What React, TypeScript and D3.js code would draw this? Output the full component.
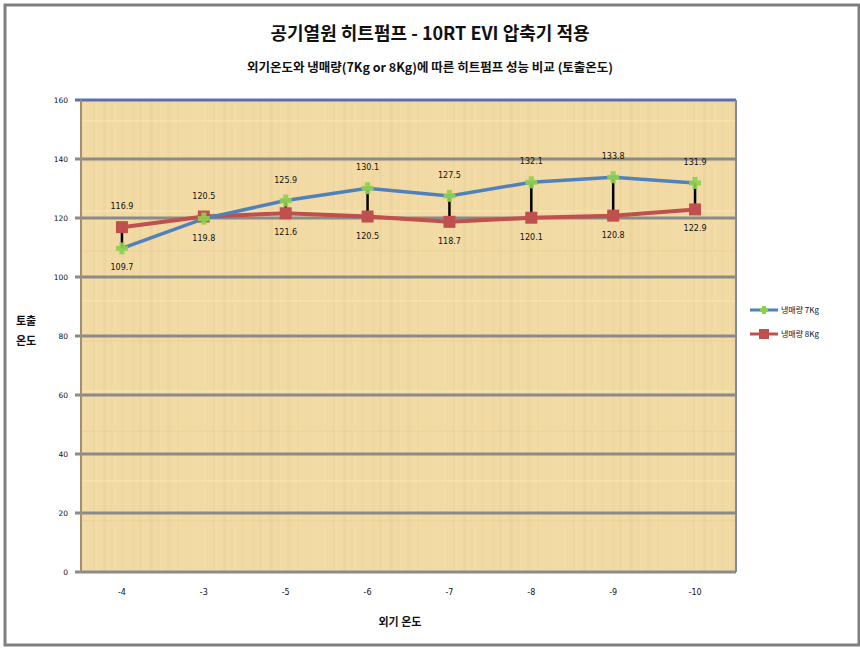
import React from "react";
import * as d3 from "d3";

const categories = ["-4", "-3", "-5", "-6", "-7", "-8", "-9", "-10"];
const series7Kg = [109.7, 119.8, 125.9, 130.1, 127.5, 132.1, 133.8, 131.9];
const series8Kg = [116.9, 120.5, 121.6, 120.5, 118.7, 120.1, 120.8, 122.9];
const yTicks = [0, 20, 40, 60, 80, 100, 120, 140, 160];
const seriesNames = ["냉매량 7Kg", "냉매량 8Kg"];

const W = 860;
const H = 652;
const M = { left: 81, right: 736, top: 100, bottom: 572 };

export default function App() {
  const x = d3.scaleBand<string>().domain(categories).range([M.left, M.right]);
  const y = d3.scaleLinear().domain([0, 160]).range([M.bottom, M.top]);
  const cx = (c: string) => (x(c) as number) + x.bandwidth() / 2;

  const line = d3
    .line<number>()
    .x((_, i) => cx(categories[i]))
    .y((d) => y(d));

  const stripes = d3.range(0, 24).map((i) => ({
    x: (i * 37) % 120,
    w: 2 + (i % 3),
    op: 0.06 + ((i * 7) % 5) * 0.02,
    c: i % 2 ? "#d2b072" : "#fbe9bd",
  }));

  const labelFont = { fontFamily: "DejaVu Sans, sans-serif", fontSize: 8, fill: "#111" };

  return (
    <svg width={W} height={H} style={{ position: "absolute", left: 0, top: 0, background: "#fff" }}>
      <defs>
        <pattern id="papyrus" patternUnits="userSpaceOnUse" width={120} height={90}>
          <rect width={120} height={90} fill="#f2daa4" />
          {stripes.map((s, i) => (
            <rect key={i} x={s.x} y={0} width={s.w} height={90} fill={s.c} opacity={s.op} />
          ))}
          <rect x={0} y={30} width={120} height={2} fill="#fbeac0" opacity={0.35} />
          <rect x={0} y={70} width={120} height={2} fill="#e0bd80" opacity={0.2} />
        </pattern>
      </defs>
      <rect x={5} y={5} width={854} height={640} fill="#fff" stroke="#7f7f7f" strokeWidth={3} />
      <text x={430} y={40} textAnchor="middle" fontFamily="Noto Sans CJK KR, sans-serif" fontWeight="bold" fontSize={18} fill="#111">
        공기열원 히트펌프  -  10RT EVI 압축기 적용
      </text>
      <text x={430} y={72} textAnchor="middle" fontFamily="Noto Sans CJK KR, sans-serif" fontWeight="bold" fontSize={12.5} fill="#111">
        외기온도와 냉매량(7Kg or 8Kg)에 따른 히트펌프 성능 비교 (토출온도)
      </text>
      <rect x={M.left} y={M.top} width={M.right - M.left} height={M.bottom - M.top} fill="url(#papyrus)" />
      {yTicks.map((t) => (
        <g key={t}>
          <line x1={M.left - 6} x2={M.right} y1={y(t)} y2={y(t)} stroke={t === 160 ? "#5b6fae" : "#8a8a8a"} strokeWidth={3} />
          <text x={68} y={y(t) + 3} textAnchor="end" {...labelFont} fontSize={7.5}>
            {t}
          </text>
        </g>
      ))}
      <line x1={M.left} x2={M.left} y1={M.top} y2={M.bottom} stroke="#a09070" strokeWidth={2} />
      <line x1={M.right} x2={M.right} y1={M.top} y2={M.bottom} stroke="#7d8aa5" strokeWidth={2} />
      {categories.map((c) => (
        <text key={c} x={cx(c)} y={595} textAnchor="middle" {...labelFont}>
          {c}
        </text>
      ))}
      <text x={400} y={626} textAnchor="middle" fontFamily="Noto Sans CJK KR, sans-serif" fontSize={11} fontWeight="bold" fill="#111">
        외기 온도
      </text>
      <text x={16} y={325} fontFamily="Noto Sans CJK KR, sans-serif" fontSize={11} fontWeight="bold" fill="#111">
        토출
      </text>
      <text x={16} y={345} fontFamily="Noto Sans CJK KR, sans-serif" fontSize={11} fontWeight="bold" fill="#111">
        온도
      </text>
      {categories.map((c, i) => (
        <line key={c} x1={cx(c)} x2={cx(c)} y1={y(series7Kg[i])} y2={y(series8Kg[i])} stroke="#000" strokeWidth={2.5} />
      ))}
      <path d={line(series8Kg) || ""} fill="none" stroke="#c0504d" strokeWidth={4} />
      <path d={line(series7Kg) || ""} fill="none" stroke="#4f81bd" strokeWidth={3.5} />
      {series8Kg.map((v, i) => (
        <rect key={i} x={cx(categories[i]) - 6} y={y(v) - 6} width={12} height={12} fill="#c0504d" />
      ))}
      {series7Kg.map((v, i) => (
        <g key={i} fill="#8fd14f" opacity={0.9}>
          <rect x={cx(categories[i]) - 6} y={y(v) - 2.5} width={12} height={5} />
          <rect x={cx(categories[i]) - 2.5} y={y(v) - 6} width={5} height={12} />
        </g>
      ))}
      {categories.map((c, i) => {
        const hi = Math.max(series7Kg[i], series8Kg[i]);
        const lo = Math.min(series7Kg[i], series8Kg[i]);
        return (
          <g key={c}>
            <text x={cx(c)} y={y(hi) - 18} textAnchor="middle" {...labelFont}>
              {hi.toFixed(1)}
            </text>
            <text x={cx(c)} y={y(lo) + 22} textAnchor="middle" {...labelFont}>
              {lo.toFixed(1)}
            </text>
          </g>
        );
      })}
      <g>
        <line x1={750} x2={778} y1={310} y2={310} stroke="#4f81bd" strokeWidth={3} />
        <rect x={760} y={308} width={8} height={4} fill="#8fd14f" />
        <rect x={762} y={306} width={4} height={8} fill="#8fd14f" />
        <text x={781} y={313} fontFamily="Noto Sans CJK KR, sans-serif" fontSize={8} fill="#111">
          {seriesNames[0]}
        </text>
        <line x1={750} x2={778} y1={334} y2={334} stroke="#c0504d" strokeWidth={3} />
        <rect x={759} y={329} width={10} height={10} fill="#c0504d" />
        <text x={781} y={337} fontFamily="Noto Sans CJK KR, sans-serif" fontSize={8} fill="#111">
          {seriesNames[1]}
        </text>
      </g>
    </svg>
  );
}
